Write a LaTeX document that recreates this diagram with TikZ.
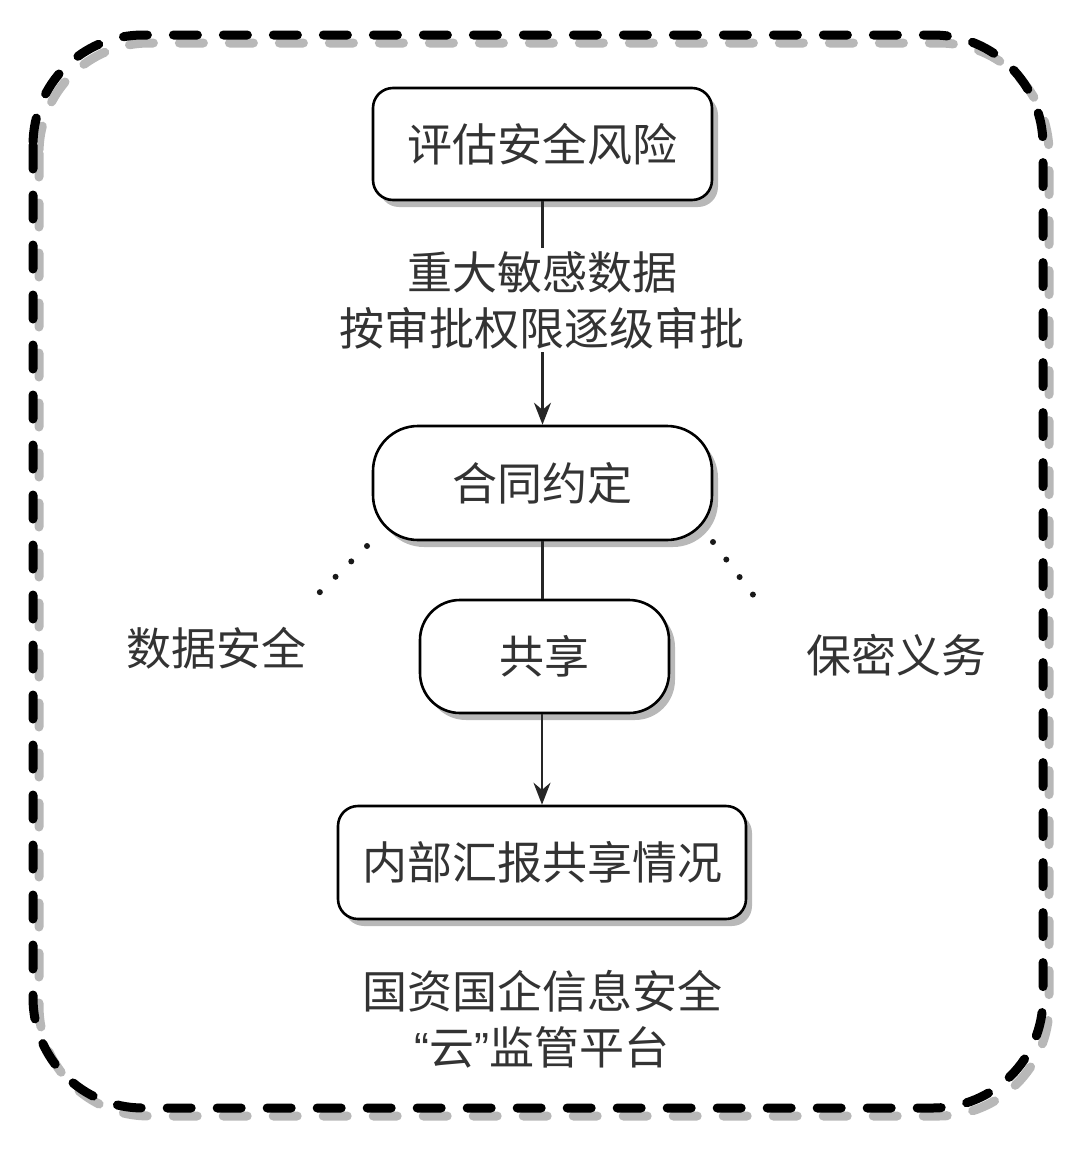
\documentclass[tikz,border=0pt]{standalone}
\usepackage{fontspec}
\setmainfont{Noto Sans CJK SC}
\newfontfamily\quotefont{Liberation Sans}
\usetikzlibrary{arrows.meta,shadows}
\definecolor{txt}{HTML}{333333}
\tikzset{
  flowbox/.style={draw=black, line width=2.6pt, fill=white, text=txt,
    font=\fontsize{45}{54}\selectfont, inner sep=0pt,
    drop shadow={shadow xshift=6pt, shadow yshift=-7pt, fill=black, opacity=0.28}},
  conn/.style={line width=2.4pt, draw=black!85},
  arr/.style={conn, -{Stealth[length=22pt,width=17pt]}},
  dotline/.style={line width=6pt, line cap=round, dash pattern=on 0pt off 22pt, draw=black!90},
  bigtxt/.style={text=txt, font=\fontsize{45}{56}\selectfont, align=center, inner sep=0pt},
  frame/.style={line width=9pt, line cap=round, dash pattern=on 24pt off 26pt, rounded corners=110pt}
}
\begin{document}
\begin{tikzpicture}[x=1pt,y=-1pt]
\useasboundingbox (0,0) rectangle (1080,1149);
% frame with shadow
\draw[frame, draw=black!28] (39,43) rectangle (1049,1116);
\draw[frame, draw=black] (33,35) rectangle (1043,1108);

\node[flowbox, rounded corners=20pt, minimum width=339pt, minimum height=112pt] (b1) at (542.5,144) {评估安全风险};
\node[flowbox, rounded corners=45pt, minimum width=339pt, minimum height=114pt] (b2) at (542.5,483) {合同约定};
\node[flowbox, rounded corners=40pt, minimum width=249pt, minimum height=113pt] (b3) at (544.5,656.5) {共享};
\node[flowbox, rounded corners=20pt, minimum width=408pt, minimum height=113pt] (b4) at (542,862.5) {内部汇报共享情况};

\draw[arr] (b1.south) -- (b2.north);
\node[bigtxt, fill=white, inner sep=3pt] (lab) at (542,300) {重大敏感数据\\按审批权限逐级审批};
\draw[conn] (b2.south) -- (b2.south |- b3.north);
\draw[arr] (b3.south -| b4.north) -- (b4.north);

\coordinate (l1) at (367,546);
\coordinate (l2) at (319,593);
\coordinate (r1) at (713,542);
\coordinate (r2) at (754,596);
\draw[dotline] (l1) -- (l2);
\draw[dotline] (r1) -- (r2);

\node[bigtxt] (ds) at (216,648) {数据安全};
\node[bigtxt] (bm) at (896,655) {保密义务};
\node[bigtxt] (pf) at (542,1019) {国资国企信息安全\\{\quotefont“}云{\quotefont”}监管平台};
\end{tikzpicture}
\end{document}
